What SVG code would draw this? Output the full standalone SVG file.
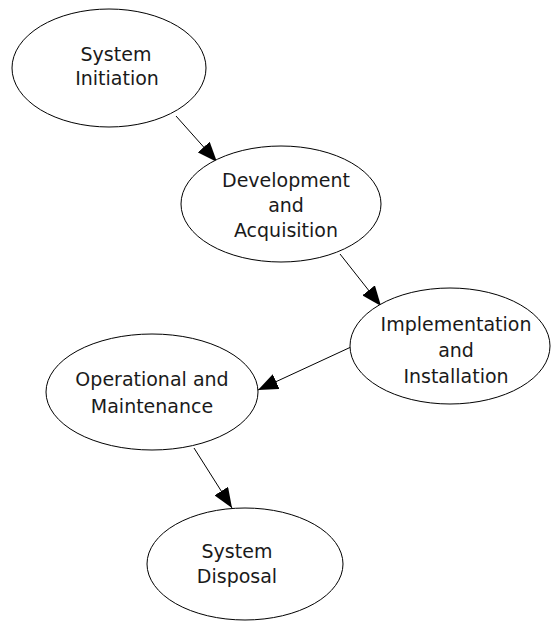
<svg xmlns="http://www.w3.org/2000/svg" width="551" height="622" viewBox="0 0 551 622">
<defs>
<style>
.node ellipse{fill:#ffffff;stroke:#000000;stroke-width:1}
.node text{font-family:"DejaVu Sans","Liberation Sans",sans-serif;font-size:19px;fill:#1a1a1a;text-anchor:middle}
.edge{stroke:#000000;stroke-width:1;fill:none;marker-end:url(#arrow)}
</style>
<marker id="arrow" markerUnits="userSpaceOnUse" markerWidth="20" markerHeight="16" refX="20" refY="8" orient="auto">
<path d="M0,0 L20,8 L0,16 z" fill="#000000"/>
</marker>
</defs>
<rect width="551" height="622" fill="#ffffff"/>
<g id="connectors">
<line class="edge" x1="176" y1="116" x2="217" y2="162"/>
<line class="edge" x1="340" y1="254" x2="381" y2="306"/>
<line class="edge" x1="351" y1="347" x2="258" y2="390"/>
<line class="edge" x1="194" y1="448" x2="232" y2="508"/>
</g>
<g id="system-initiation" class="node">
<ellipse cx="109" cy="68" rx="97" ry="59"/>
<text x="116" y="61">System</text>
<text x="117" y="85">Initiation</text>
</g>
<g id="development-acquisition" class="node">
<ellipse cx="281" cy="204" rx="100" ry="58"/>
<text x="286" y="187">Development</text>
<text x="286" y="212">and</text>
<text x="286" y="237">Acquisition</text>
</g>
<g id="implementation-installation" class="node">
<ellipse cx="450" cy="346" rx="100" ry="58"/>
<text x="456" y="331">Implementation</text>
<text x="456" y="357">and</text>
<text x="456" y="383">Installation</text>
</g>
<g id="operational-maintenance" class="node">
<ellipse cx="152" cy="392" rx="106" ry="58"/>
<text x="152" y="386">Operational and</text>
<text x="152" y="413">Maintenance</text>
</g>
<g id="system-disposal" class="node">
<ellipse cx="245" cy="564" rx="98" ry="56"/>
<text x="237" y="558">System</text>
<text x="237" y="583">Disposal</text>
</g>
</svg>
